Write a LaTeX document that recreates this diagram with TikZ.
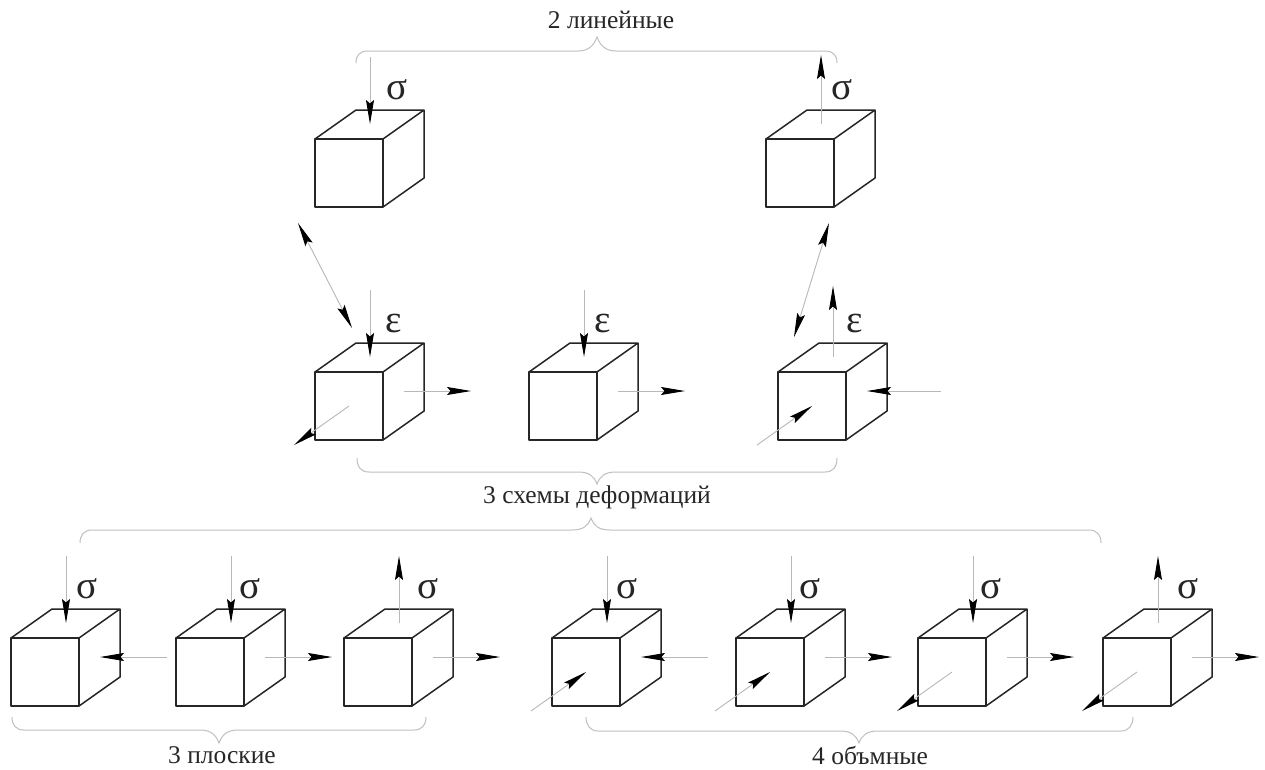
\documentclass[tikz,border=0pt]{standalone}
\usepackage{fontspec}
\setmainfont{Liberation Serif}
\usetikzlibrary{arrows.meta}
\definecolor{shaft}{gray}{0.72}
\definecolor{brace}{gray}{0.75}
\definecolor{edge}{gray}{0.15}
\tikzset{
  tiphead/.tip={Stealth[length=24pt,width=8pt,inset=3.5pt,color=black,fill=black]},
  cubeline/.style={draw=edge,line width=1.5pt,line join=round},
  force/.style={draw=shaft,line width=0.9pt,-tiphead},
  bothforce/.style={draw=shaft,line width=0.9pt,tiphead-tiphead},
  bracket/.style={draw=brace,line width=1pt},
  symtext/.style={font=\fontsize{39}{39}\selectfont,inner sep=0pt,text=black!85},
  captext/.style={font=\fontsize{25.5}{28}\selectfont,inner sep=0pt,text=black!85},
}
% cube: name, x, y of front face top left
\newcommand{\cubeat}[3]{%
  \coordinate (#1) at (#2,#3);
  \coordinate (#1t) at (#2+55,#3-15);
  \coordinate (#1T) at (#2+55,#3-82);
  \coordinate (#1r) at (#2+89,#3+19);
  \coordinate (#1R) at (#2+156,#3+19);
  \coordinate (#1b) at (#2+34,#3+34);
  \coordinate (#1B) at (#2-21,#3+73);
  \draw[cubeline] (#2,#3) rectangle (#2+68,#3+68);
  \draw[cubeline] (#2,#3) -- (#2+41,#3-29) -- (#2+109,#3-29) -- (#2+68,#3)
    (#2+109,#3-29) -- (#2+109,#3+39) -- (#2+68,#3+68);
}
\newcommand{\fdown}[1]{\draw[force] (#1T) -- (#1t);}
\newcommand{\fup}[1]{\draw[force] (#1t) -- (#1T);}
\newcommand{\fright}[1]{\draw[force] (#1r) -- (#1R);}
\newcommand{\fleft}[1]{\draw[force] (#1R) -- (#1r);}
\newcommand{\fout}[1]{\draw[force] (#1b) -- (#1B);}
\newcommand{\finto}[1]{\draw[force] (#1B) -- (#1b);}
\begin{document}
\begin{tikzpicture}[x=1pt,y=-1pt]
\useasboundingbox (0,0) rectangle (1265,769);
\fill[white] (0,0) rectangle (1265,769);
% row 1
\cubeat{a}{315}{139}
\cubeat{b}{766}{139}
% row 2
\cubeat{c}{315}{372}
\cubeat{d}{529}{372}
\cubeat{e}{778}{372}
% row 3
\cubeat{f}{11}{638}
\cubeat{g}{176}{638}
\cubeat{h}{344}{638}
\cubeat{i}{552}{638}
\cubeat{j}{736}{638}
\cubeat{k}{918}{638}
\cubeat{l}{1103}{638}
% forces
\fdown{a}
\draw[force] (bt) -- ([yshift=2pt]bT);
\fdown{c} \fout{c} \fright{c}
\fdown{d} \fright{d}
\draw[force] (et) -- ([yshift=4pt]eT);
\finto{e}
\draw[force] ([xshift=7pt]eR) -- (er);
\fdown{f} \fleft{f}
\fdown{g} \fright{g}
\fup{h} \fright{h}
\fdown{i} \finto{i} \fleft{i}
\fdown{j} \finto{j} \fright{j}
\fdown{k} \fout{k} \fright{k}
\fup{l} \fout{l} \fright{l}
% double arrows between rows
\coordinate (m1) at (298,223);
\coordinate (m2) at (352,328);
\coordinate (m3) at (829,223);
\coordinate (m4) at (794,337);
\draw[bothforce] (m1) -- (m2);
\draw[bothforce] (m3) -- (m4);
% braces
\draw[bracket] (356,63) .. controls (356,55) and (360,51) .. (368,51) -- (578,51)
  .. controls (589,51) and (594,45) .. (597,37)
  .. controls (600,45) and (605,51) .. (616,51) -- (825,51)
  .. controls (833,51) and (837,55) .. (837,63);
\draw[bracket] (357,458) .. controls (357,467) and (361,472) .. (369,472) -- (578,472)
  .. controls (589,472) and (594,476) .. (597,484)
  .. controls (600,476) and (605,472) .. (616,472) -- (825,472)
  .. controls (833,472) and (837,467) .. (837,458);
\draw[bracket] (80,543) .. controls (80,535) and (84,530) .. (92,530) -- (572,530)
  .. controls (583,530) and (588,526) .. (591,518)
  .. controls (594,526) and (599,530) .. (610,530) -- (1089,530)
  .. controls (1097,530) and (1101,535) .. (1101,543);
\draw[bracket] (12,717) .. controls (12,725) and (16,730) .. (24,730) -- (200,730)
  .. controls (211,730) and (216,735) .. (219,743)
  .. controls (222,735) and (227,730) .. (238,730) -- (414,730)
  .. controls (422,730) and (426,725) .. (426,717);
\draw[bracket] (586,717) .. controls (586,725) and (590,731) .. (598,731) -- (840,731)
  .. controls (851,731) and (856,735) .. (859,743)
  .. controls (862,735) and (867,731) .. (878,731) -- (1121,731)
  .. controls (1129,731) and (1133,725) .. (1133,717);
% symbols
\node[symtext] (s1) at (397,90) {σ};
\node[symtext] (s2) at (842,90) {σ};
\node[symtext] (e1) at (394,323) {ε};
\node[symtext] (e2) at (603,323) {ε};
\node[symtext] (e3) at (855,323) {ε};
\node[symtext] (s3) at (87,589) {σ};
\node[symtext] (s4) at (250,589) {σ};
\node[symtext] (s5) at (428,589) {σ};
\node[symtext] (s6) at (627,589) {σ};
\node[symtext] (s7) at (810,589) {σ};
\node[symtext] (s8) at (991,589) {σ};
\node[symtext] (s9) at (1188,589) {σ};
% captions
\node[captext] (t1) at (611,20) {2 линейные};
\node[captext] (t2) at (597,497) {3 схемы деформаций};
\node[captext] (t3) at (222,755) {3 плоские};
\node[captext] (t4) at (870,755) {4 объмные};
\end{tikzpicture}
\end{document}
